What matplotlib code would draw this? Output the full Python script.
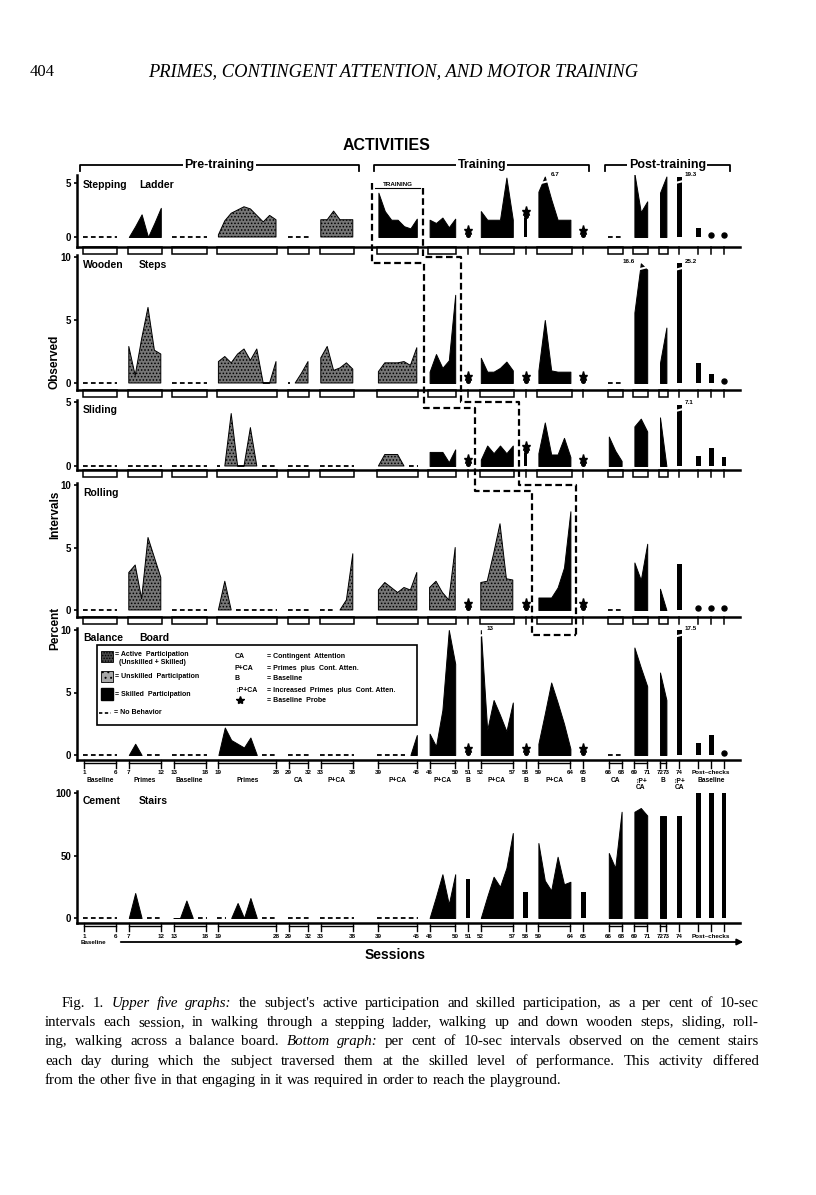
import numpy as np
import matplotlib
matplotlib.use("Agg")
import matplotlib.pyplot as plt
from matplotlib.lines import Line2D
from matplotlib.patches import Rectangle, FancyArrowPatch
from matplotlib.transforms import ScaledTranslation, blended_transform_factory

N = np.nan

# sessions grouped into condition blocks (75-77 are the three post-checks)
block_first = [1, 7, 13, 19, 29, 33, 39, 46, 51, 52, 58, 59, 65, 66, 69, 72, 74, 75, 76, 77]
block_last = [6, 12, 18, 28, 32, 38, 45, 50, 51, 57, 58, 64, 65, 68, 71, 73, 74, 75, 76, 77]
block_names = ["Baseline", "Primes", "Baseline", "Primes", "CA", "P+CA", "P+CA", "P+CA",
               "B", "P+CA", "B", "P+CA", "B", "CA", "\u2195P+\nCA", "B", "\u2195P+\nCA"]
probe_sessions = [51, 58, 65]
training_first = [39, 46, 52, 59]      # staggered training of the first four activities
training_last = [45, 50, 57, 64]
phases = [("Pre-training", 1, 38), ("Training", 39, 65), ("Post-training", 66, 77)]

# per cent of intervals per session, nan = no behavior
ladder = ([N] * 6 + [0, 1.0, 2.1, 0, 1.3, 2.7] + [N] * 6
          + [0.2, 1.5, 2.2, 2.5, 2.8, 2.6, 2.0, 1.4, 2.0, 1.6] + [N] * 4
          + [1.6, 1.6, 2.4, 1.6, 1.6, 1.6] + [4.1, 2.4, 1.6, 1.6, 1.0, 0.8, 1.7]
          + [1.6, 1.3, 1.8, 0.9, 1.7] + [0] + [2.4, 1.6, 1.6, 1.6, 5.5, 1.6] + [1.8]
          + [4.2, 6.7, 3.5, 1.6, 1.6, 1.6] + [0] + [N] * 3 + [5.9, 2.3, 3.3]
          + [4.1, 5.6] + [19.3] + [0.8, 0, 0])
wooden = ([N] * 6 + [2.9, 0.6, 3.5, 6.0, 2.6, 2.3] + [N] * 6
          + [1.7, 2.1, 1.6, 2.3, 2.7, 1.8, 2.7, 0, 0, 1.7] + [N, 0, 0.8, 1.7]
          + [2.0, 2.9, 1.0, 1.2, 1.6, 1.1] + [0.9, 1.6, 1.6, 1.6, 1.7, 1.4, 2.8]
          + [0.9, 2.3, 1.2, 1.8, 7.0] + [0] + [2.0, 0.9, 0.9, 1.2, 1.7, 1.0] + [0]
          + [1.0, 5.0, 1.0, 0.9, 0.9, 0.9] + [0] + [N] * 3 + [5.6, 16.6, 9.0]
          + [1.6, 4.4] + [25.2] + [1.6, 0.7, 0])
sliding = ([N] * 18 + [N, 0, 4.1, 0, 0, 3.0, 0, N, N, N] + [N] * 4 + [N] * 6
           + [0, 0.9, 0.9, 0.9, 0, N, N] + [1.1, 1.1, 1.1, 0.3, 1.3] + [0]
           + [0.5, 1.6, 1.0, 1.6, 1.0, 1.6] + [1.0] + [1.0, 3.4, 0.9, 0.9, 2.2, 0.7] + [0]
           + [2.3, 1.2, 0.4] + [3.1, 3.7, 2.7] + [3.8, 0] + [7.1] + [0.8, 1.4, 0.7])
rolling = ([N] * 6 + [3.0, 3.6, 0.9, 5.8, 4.2, 2.6] + [N] * 6
           + [0, 2.3, 0] + [N] * 7 + [N] * 4 + [N, N, N, 0, 0.8, 4.5]
           + [1.6, 2.2, 1.8, 1.4, 1.8, 1.6, 3.0] + [1.8, 2.3, 1.4, 0.8, 5.0] + [0]
           + [2.2, 2.3, 4.5, 6.9, 2.5, 2.4] + [0] + [1.0, 1.0, 1.0, 1.8, 3.4, 7.9] + [0]
           + [N] * 3 + [3.8, 2.4, 5.3] + [1.7, 0] + [3.7] + [0, 0, 0])
balance = ([N] * 6 + [0, 0.9, 0, N, N, N] + [N] * 6
           + [0, 2.2, 1.2, 0.9, 0.6, 1.4, 0, N, N, N] + [N] * 4 + [N] * 6
           + [N] * 5 + [0, 1.6] + [1.7, 0.7, 3.6, 10.0, 7.3] + [0]
           + [13, 2.0, 4.4, 3.2, 1.9, 4.2] + [0] + [0.9, 3.3, 5.8, 4.2, 2.5, 0.5] + [0]
           + [N] * 3 + [8.6, 7.0, 5.5] + [6.6, 4.4] + [17.5] + [1.0, 1.6, 0])
stairs = ([N] * 6 + [0, 20, 0, N, N, N] + [0, 0, 14, 0, N, N]
          + [N, N, 0, 12, 0, 16, 0, N, N, N] + [N] * 4 + [N] * 6 + [N] * 7
          + [0, 17, 35, 11, 35] + [31] + [0, 17, 33, 25, 40, 68] + [21]
          + [60, 30, 22, 49, 27, 29] + [21] + [52, 40, 85] + [85, 88, 82]
          + [82, 82] + [82] + [100, 100, 100])

panel_values = [ladder, wooden, sliding, rolling, balance, stairs]
panel_titles = [("Stepping", "Ladder"), ("Wooden", "Steps"), ("Sliding", ""),
                ("Rolling", ""), ("Balance", "Board"), ("Cement", "Stairs")]
panel_ticks = [[0, 5], [0, 5, 10], [0, 5], [0, 5, 10], [0, 5, 10], [0, 50, 100]]
unskilled_blocks = [[3, 5], [1, 3, 4, 5, 6], [3, 6], [1, 3, 5, 6, 7, 9], [], []]

# ---------------------------------------------------------------- layout
W, H = 816, 1195
AX_L, AX_R = 77, 740
X0, DX = 84, 6.4                         # pixel of position 1, pixels per session
XLIM = (1 + (AX_L - X0) / DX, 1 + (AX_R - X0) / DX)
block_gap = [0, 1, 1, 1, 1, 1, 3, 1, 1, 1, 1, 1, 1, 3, 1, 1, 1, 2, 1, 1]
shift = np.cumsum(block_gap)
# panel frames: top px, bottom px, zero px, px per unit
frames = [(175, 247, 237, 10.8), (255, 390, 383, 12.6), (400, 470, 466, 12.8),
          (483, 617, 610, 12.5), (628, 760, 755, 12.5), (791, 923, 918, 1.25)]
clips = [(6.0, 5.6), (10.0, 9.5), (5.0, 4.8), None, (10.5, 10.0), None]
STIP = "#767676"
SANS = ["Liberation Sans", "DejaVu Sans"]
SERIF = "Liberation Serif"

plt.rcParams["font.family"] = SANS
plt.rcParams["font.weight"] = "bold"
plt.rcParams["hatch.linewidth"] = 0.7


def xpos(s):
    for b, (a, z) in enumerate(zip(block_first, block_last)):
        if a <= s <= z:
            return s + shift[b]


def px(p):
    return X0 + (p - 1) * DX


def F(x, y):
    return x / W, 1 - y / H


fig = plt.figure(figsize=(W / 100, H / 100), dpi=100)


def fig_line(pts, **kw):
    xs = [p[0] / W for p in pts]
    ys = [1 - p[1] / H for p in pts]
    fig.add_artist(Line2D(xs, ys, transform=fig.transFigure, color="k", **kw))


def draw_panel(i, ax):
    top, bot, zero, unit = frames[i]
    hpx = bot - top
    thr, cap = clips[i] if clips[i] else (np.inf, None)
    vals = np.array(panel_values[i], float)
    under = blended_transform_factory(ax.transData, ax.transAxes)

    def up(dy):
        return ax.transData + ScaledTranslation(0, dy / 100, fig.dpi_scale_trans)

    for b, (a, z) in enumerate(zip(block_first, block_last)):
        xs = np.arange(a, z + 1) + shift[b]
        v = vals[a - 1:z]
        shown = np.where(v > thr, cap if cap else 0, v)
        if b in unskilled_blocks[i]:
            style = dict(facecolor=STIP, hatch=".....", edgecolor="k", lw=0.7)
        else:
            style = dict(facecolor="k", edgecolor="k", lw=0.7)
        if len(xs) == 1:
            x, val = xs[0], v[0]
            if a in probe_sessions and i < 5:
                if val > 0:
                    ax.bar(x, val, 0.55, color="k")
                ax.plot(x, val, marker="o", ms=2.6, color="k", transform=up(2))
                ax.plot(x, val, marker="*", ms=6.5, color="k", transform=up(7))
            elif val == 0:
                ax.plot(x, 0, marker="o", ms=3.6, color="k", transform=up(2.5))
            else:
                ax.bar(x, shown[0], 0.75, color="k")
        else:
            miss = np.isnan(v)
            k = 0
            while k < len(v):
                j = k
                while j + 1 < len(v) and miss[j + 1] == miss[k]:
                    j += 1
                if miss[k]:
                    ax.plot([xs[k] - 0.2, xs[j] + 0.2], [0, 0], color="k", lw=1.3,
                            ls=(0, (2.6, 1.8)))
                else:
                    ax.fill_between(xs[k:j + 1], 0, shown[k:j + 1], **style)
                k = j + 1
        # values beyond the scale: break mark and true value
        for n, (x, val) in enumerate(zip(xs, v)):
            if val > thr:
                ax.plot([x - 0.9, x + 0.9], [cap - 7 / unit, cap - 4 / unit],
                        color="white", lw=1.5)
                left = n + 1 < len(v) and shown[n + 1] > 0.8 * cap
                ax.text(x - 0.9 if left else x + 0.9, cap + 2 / unit, f"{val:g}",
                        fontsize=4.5, ha="right" if left else "left", va="center")
        # session brackets under the axis
        if i < 4:
            if len(xs) > 1:
                ax.add_patch(Rectangle((xs[0] - 0.2, -7 / hpx), xs[-1] - xs[0] + 0.4,
                                       7 / hpx, transform=under, fill=False, ec="k",
                                       lw=1.1, clip_on=False))
            else:
                ax.plot([xs[0]] * 2, [0, -7 / hpx], transform=under, color="k",
                        lw=1.1, clip_on=False)
        else:
            for x in {xs[0], xs[-1]}:
                ax.plot([x, x], [0, -8 / hpx], transform=under, color="k", lw=1.0,
                        clip_on=False)
            if len(xs) > 1:
                ax.plot([xs[0], xs[-1]], [-3 / hpx] * 2, transform=under, color="k",
                        lw=1.0, clip_on=False)
            if b < 17:
                nums = [a] if a == z else [a, z]
                for s in nums:
                    ax.text(xpos(s), -13 / hpx, str(s), transform=under, ha="center",
                            va="center", fontsize=4.5)
                if i == 4:
                    ax.text(xs.mean(), -17.5 / hpx, block_names[b], transform=under,
                            ha="center", va="top", fontsize=4.8, linespacing=0.85)
    if i >= 4:
        xp = xpos(76)
        ax.text(xp, -13 / hpx, "Post\u2013checks", transform=under, ha="center",
                va="center", fontsize=4.5)
        if i == 4:
            ax.text(xp, -17.5 / hpx, "Baseline", transform=under, ha="center",
                    va="top", fontsize=4.8)


for i, (top, bot, zero, unit) in enumerate(frames):
    ax = fig.add_axes([AX_L / W, 1 - bot / H, (AX_R - AX_L) / W, (bot - top) / H])
    ax.set_xlim(XLIM)
    ax.set_ylim(-(bot - zero) / unit, (zero - top) / unit)
    ax.patch.set_alpha(0)
    for s in ["top", "right"]:
        ax.spines[s].set_visible(False)
    for s in ["left", "bottom"]:
        ax.spines[s].set_linewidth(1.8)
    ax.set_xticks([])
    ax.set_yticks(panel_ticks[i])
    ax.tick_params(axis="y", length=2.5, width=1.2, pad=1.5, labelsize=7)
    draw_panel(i, ax)
    t1, t2 = panel_titles[i]
    fig.text(*F(83, top + 10), t1, fontsize=7.5, va="center")
    fig.text(*F(139, top + 10), t2, fontsize=7.5, va="center")

# bottom axis: baseline arrow and "Sessions"
fig.text(*F(81, 942), "Baseline", fontsize=4.5, va="center")
fig.add_artist(FancyArrowPatch(F(118, 942), F(746, 942), transform=fig.transFigure,
                               arrowstyle="-|>", mutation_scale=9, lw=1.3, color="k"))
fig.text(*F(395, 955), "Sessions", fontsize=10, ha="center", va="center")

# y label
for word, yc in [("Observed", 362), ("Intervals", 515), ("Percent", 628)]:
    fig.text(*F(55, yc), word, rotation=90, fontsize=8.5, ha="center", va="center")

# phase brackets
for label, a, z in phases:
    x0, x1 = px(xpos(a)) - 4, px(xpos(z)) + 6
    fig_line([(x0, 171), (x0, 165), (x1, 165), (x1, 171)], lw=1.3)
    fig.text(*F((x0 + x1) / 2, 165), label, fontsize=9, ha="center", va="center",
             bbox=dict(fc="white", ec="none", pad=1))

# staggered training boxes (dashed staircase)
tops = [f[0] for f in frames]
xl = [px(xpos(s)) - 6 for s in training_first]
xr = [px(xpos(s)) + 6 for s in training_last]
left = [(xl[0], tops[0] + 8)]
right = [(xr[0], tops[0] + 13)]
for k in range(3):
    left += [(xl[k], tops[k + 1] + 8), (xl[k + 1], tops[k + 1] + 8)]
    right += [(xr[k], tops[k + 1] + 2), (xr[k + 1], tops[k + 1] + 2)]
left += [(xl[3], tops[4] + 7), (xr[3], tops[4] + 7)]
right += [(xr[3], tops[4] + 7)]
fig_line(left, lw=1.6, ls=(0, (3, 1.6)))
fig_line(right, lw=1.6, ls=(0, (3, 1.6)))
fig.text(*F((xl[0] + xr[0]) / 2, 184), "TRAINING", fontsize=4.5, ha="center",
         va="center")
fig_line([(xl[0] + 3, 188), (xr[0] - 3, 188)], lw=0.8)


# legend inside the balance-board panel
def box(x, y, w, h, **kw):
    fig.add_artist(Rectangle((x / W, 1 - (y + h) / H), w / W, h / H,
                             transform=fig.transFigure, **kw))


box(97, 645, 320, 80, fill=False, ec="k", lw=1.2)
box(101, 651, 12, 11, fc="#4a4a4a", hatch="......", ec="k", lw=0.6)
box(101, 671, 12, 11, fc="#a8a8a8", hatch="...", ec="k", lw=0.6)
box(101, 688, 12, 12, fc="k", ec="k")
fig_line([(99, 713), (111, 713)], lw=1.2, ls=(0, (2, 1.5)))
lg = dict(fontsize=5, va="center")
fig.text(*F(115, 655), "= Active  Participation", **lg)
fig.text(*F(119, 662), "(Unskilled + Skilled)", **lg)
fig.text(*F(115, 677), "= Unskilled  Participation", **lg)
fig.text(*F(115, 694), "= Skilled  Participation", **lg)
fig.text(*F(114, 713), "= No Behavior", **lg)
for sym, desc, y in [("CA", "= Contingent  Attention", 657),
                     ("P+CA", "= Primes  plus  Cont. Atten.", 668),
                     ("B", "= Baseline", 679),
                     ("\u2195P+CA", "= Increased  Primes  plus  Cont. Atten.", 690)]:
    fig.text(*F(235, y), sym, **lg)
    fig.text(*F(267, y), desc, **lg)
fig.add_artist(Line2D([240 / W], [1 - 700 / H], marker="*", ms=6, color="k",
                      transform=fig.transFigure))
fig.text(*F(267, 700), "= Baseline  Probe", **lg)

# page header
fig.text(*F(30, 72), "404", family=SERIF, weight="normal", fontsize=12, va="center")
fig.text(*F(148, 72), "PRIMES, CONTINGENT ATTENTION, AND MOTOR TRAINING", family=SERIF,
         style="italic", weight="normal", fontsize=13.3, va="center")
fig.text(*F(387, 146), "ACTIVITIES", fontsize=11.5, ha="center", va="center")

# caption, justified line by line
renderer = fig.canvas.get_renderer()


def caption_line(y, x0, x1, parts, justify=True):
    words = []
    for txt, it in parts:
        for w in txt.split():
            words.append(fig.text(0, 0, w, family=SERIF, weight="normal", fontsize=10.7,
                                  style="italic" if it else "normal", va="baseline"))
    widths = [t.get_window_extent(renderer).width for t in words]
    gap = (x1 - x0 - sum(widths)) / (len(words) - 1) if justify else 3.7
    x = x0
    for t, w in zip(words, widths):
        t.set_position(F(x, y))
        x += w + gap


caption_line(1007, 62, 759, [("Fig. 1.", 0), ("Upper five graphs:", 1),
             ("the subject's active participation and skilled participation, as a per cent of 10-sec", 0)])
caption_line(1026, 45, 759, [("intervals each session, in walking through a stepping ladder, "
                              "walking up and down wooden steps, sliding, roll-", 0)])
caption_line(1045, 45, 759, [("ing, walking across a balance board.", 0), ("Bottom graph:", 1),
             ("per cent of 10-sec intervals observed on the cement stairs", 0)])
caption_line(1065, 45, 759, [("each day during which the subject traversed them at the skilled "
                              "level of performance. This activity differed", 0)])
caption_line(1084, 45, 759, [("from the other five in that engaging in it was required in "
                              "order to reach the playground.", 0)], justify=False)

fig.savefig("out.png", dpi=100)
